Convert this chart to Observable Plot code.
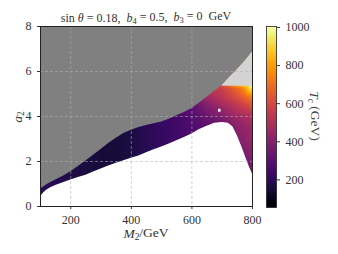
<!DOCTYPE html>
<html>
<head>
<meta charset="utf-8">
<script src="https://cdn.jsdelivr.net/npm/d3@7"></script>
<script src="https://cdn.jsdelivr.net/npm/@observablehq/plot@0.6"></script>
<style>
  html, body { margin: 0; padding: 0; background: white; }
  #wrap { position: relative; width: 338px; height: 254px; overflow: hidden; }
  #wrap svg { position: absolute; top: 0; font-family: 'Liberation Serif', 'DejaVu Serif', serif !important; font-size: 12px !important; }
  #wrap svg text { font-family: 'Liberation Serif', 'DejaVu Serif', serif !important; }
</style>
</head>
<body>
<div id="wrap"></div>
<script>
// ---- data ----
// lower edge of the coloured region (white below)
const lowerM2 = [100, 110, 120, 135, 150, 175, 200, 225, 250, 275, 300, 325, 350, 375, 400, 425, 450, 475, 500, 525, 550, 575, 600, 625, 650, 675, 700, 720, 735, 750, 765, 780, 790, 800];
const lowerA2 = [0.42, 0.6, 0.72, 0.84, 0.93, 1.06, 1.18, 1.29, 1.39, 1.53, 1.67, 1.80, 1.92, 2.03, 2.14, 2.25, 2.39, 2.52, 2.65, 2.78, 2.92, 3.07, 3.22, 3.42, 3.57, 3.70, 3.73, 3.70, 3.55, 3.15, 2.65, 2.10, 1.75, 1.45];
// upper edge of the allowed region (grey above)
const upperM2 = [100, 125, 150, 175, 200, 225, 250, 275, 300, 325, 350, 375, 400, 425, 450, 475, 500, 525, 550, 575, 600, 625, 650, 675, 700, 725, 750, 775, 800];
const upperA2 = [0.78, 1.0, 1.18, 1.35, 1.55, 1.78, 2.02, 2.28, 2.53, 2.80, 3.03, 3.24, 3.39, 3.51, 3.60, 3.68, 3.76, 3.88, 4.03, 4.18, 4.36, 4.60, 4.86, 5.12, 5.38, 5.74, 6.08, 6.45, 6.86];
// top of the coloured region in the light-grey corner
const capA2 = 5.35;
// T_c samples (M2, a2, Tc)
const sampleM2 = [100, 100, 150, 150, 200, 200, 250, 250, 300, 300, 350, 350, 400, 400, 450, 450, 500, 500, 550, 550, 600, 600,
                  620, 620, 646, 646, 646, 646, 672,
                  700, 700, 700, 700, 700,
                  745, 745, 745, 745, 745,
                  775, 775, 775, 775, 775, 775,
                  800, 800, 800, 800, 800, 800, 790, 800];
const sampleA2 = [0.45, 0.8, 0.95, 1.2, 1.2, 1.55, 1.4, 2.0, 1.65, 2.55, 1.9, 3.0, 2.15, 3.4, 2.4, 3.6, 2.65, 3.8, 2.9, 4.0, 3.2, 4.35,
                  3.4, 4.5, 3.6, 3.97, 4.41, 4.86, 5.1,
                  3.75, 3.97, 4.41, 4.86, 5.3,
                  3.5, 3.97, 4.41, 4.86, 5.3,
                  2.6, 3.52, 3.97, 4.41, 4.86, 5.3,
                  1.45, 2.6, 3.52, 3.97, 4.41, 4.86, 5.3, 5.35];
const sampleTc = [190, 190, 185, 185, 175, 175, 160, 160, 150, 150, 150, 150, 165, 165, 190, 195, 215, 220, 240, 250, 270, 300,
                  280, 340, 300, 330, 380, 455, 520,
                  360, 390, 455, 530, 580,
                  410, 450, 520, 610, 690,
                  400, 440, 480, 565, 680, 800,
                  340, 420, 465, 505, 610, 740, 930, 990];
// isolated missing point
const holeM2 = [692];
const holeA2 = [4.24];
// axes
const xTicks = [200, 400, 600, 800];
const yTicks = [0, 2, 4, 6, 8];
const xGrid = [200, 400, 600];
const yGrid = [2, 4, 6];
const cbTicks = [200, 400, 600, 800, 1000];
const tcDomain = [55, 1005];

// ---- build tables ----
const lower = lowerM2.map((m, i) => ({m, a: lowerA2[i]}));
const upper = upperM2.map((m, i) => ({m, a: upperA2[i]}));
const samples = sampleM2.map((m, i) => ({m, a: sampleA2[i], t: sampleTc[i]}));
const holes = holeM2.map((m, i) => ({m, a: holeA2[i]}));

const font = "'Liberation Serif', 'DejaVu Serif', serif";
const colorOpt = {type: "linear", scheme: "inferno", domain: tcDomain};

const main = Plot.plot({
  width: 338, height: 254,
  marginLeft: 40, marginRight: 86, marginTop: 26, marginBottom: 48,
  style: {fontFamily: font, fontSize: "12px", background: "transparent", color: "#333"},
  x: {domain: [100, 800]},
  y: {domain: [0, 8]},
  color: colorOpt,
  marks: [
    Plot.raster(samples, {x: "m", y: "a", fill: "t", x1: 100, x2: 800, y1: 0, y2: 8, interpolate: "barycentric"}),
    Plot.rect(holes, {x1: d => d.m - 4, x2: d => d.m + 4, y1: d => d.a - 0.05, y2: d => d.a + 0.08, fill: "white"}),
    Plot.areaY(lower, {x: "m", y1: 0, y2: "a", fill: "white"}),
    Plot.areaY(upper, {x: "m", y1: "a", y2: 8, fill: "#808080"}),
    Plot.areaY(upper.filter(d => d.a >= capA2), {x: "m", y1: capA2, y2: "a", fill: "#d3d3d3"}),
    Plot.ruleX(xGrid, {stroke: "#b0b0b0", strokeOpacity: 0.7, strokeDasharray: "3,2", strokeWidth: 0.8}),
    Plot.ruleY(yGrid, {stroke: "#b0b0b0", strokeOpacity: 0.7, strokeDasharray: "3,2", strokeWidth: 0.8}),
    Plot.frame({stroke: "#222", strokeWidth: 1}),
    Plot.axisX({ticks: xTicks, tickSize: 3, label: null, fontSize: 12}),
    Plot.axisY({ticks: yTicks, tickSize: 3, label: null, fontSize: 12})
  ]
});

const bar = Plot.plot({
  width: 76, height: 254,
  marginLeft: 4, marginRight: 62, marginTop: 26, marginBottom: 47,
  style: {fontFamily: font, fontSize: "12px", background: "transparent", color: "#333"},
  x: {domain: [0, 1], axis: null},
  y: {domain: tcDomain},
  color: colorOpt,
  marks: [
    Plot.raster({fill: (x, y) => y, x1: 0, x2: 1, y1: tcDomain[0], y2: tcDomain[1]}),
    Plot.frame({stroke: "#222", strokeWidth: 0.8}),
    Plot.axisY({anchor: "right", ticks: cbTicks, tickSize: 3, label: null, tickFormat: d3.format("d"), fontSize: 12})
  ]
});

const wrap = document.getElementById("wrap");
main.style.left = "0px";
bar.style.left = "262px";
wrap.appendChild(main);
wrap.appendChild(bar);

// ---- titles / labels with math styling ----
const svg = d3.select(main);
function mathText(sel, parts) {
  for (const p of parts) {
    const t = sel.append("tspan").text(p.t);
    if (p.i) t.attr("font-style", "italic");
    if (p.sub) t.attr("font-size", "0.7em").attr("dy", "0.25em");
    if (p.back) t.attr("dy", "-0.25em");
  }
}
const title = svg.append("text").attr("x", 146).attr("y", 22).attr("text-anchor", "middle")
  .attr("font-family", font).attr("font-size", 12).attr("fill", "#333");
mathText(title, [
  {t: "sin "}, {t: "θ", i: 1}, {t: " = 0.18,  "},
  {t: "b", i: 1}, {t: "4", sub: 1}, {t: " = 0.5,  ", back: 1},
  {t: "b", i: 1}, {t: "3", sub: 1}, {t: " = 0  GeV", back: 1}
]);
const xl = svg.append("text").attr("x", 146).attr("y", 238).attr("text-anchor", "middle")
  .attr("font-family", font).attr("font-size", 13.5).attr("fill", "#333");
mathText(xl, [{t: "M", i: 1}, {t: "2", sub: 1}, {t: "/GeV", back: 1}]);
const yl = svg.append("text").attr("transform", "translate(22,117) rotate(-90)").attr("text-anchor", "middle")
  .attr("font-family", font).attr("font-size", 13.5).attr("fill", "#333");
mathText(yl, [{t: "a", i: 1}, {t: "2", sub: 1}]);

const bsvg = d3.select(bar);
const cl = bsvg.append("text").attr("transform", "translate(48,116) rotate(90)").attr("text-anchor", "middle")
  .attr("font-family", font).attr("font-size", 13.5).attr("fill", "#444");
mathText(cl, [{t: "T", i: 1}, {t: "c", sub: 1, i: 1}, {t: " (GeV)", back: 1}]);
</script>
</body>
</html>
